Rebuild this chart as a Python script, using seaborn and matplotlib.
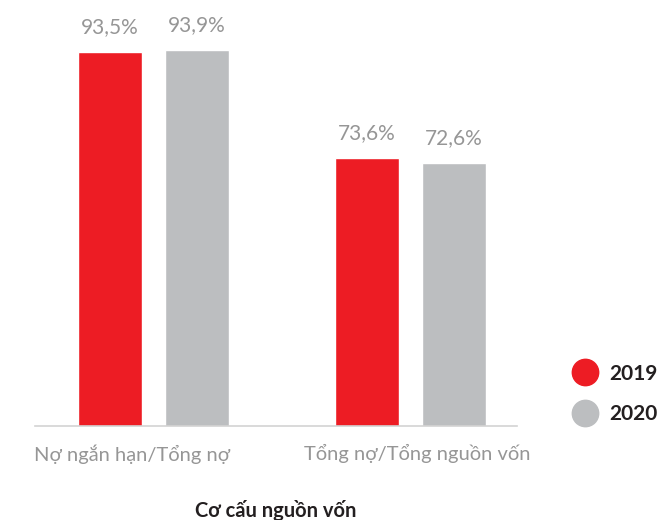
import matplotlib
matplotlib.use("Agg")
import matplotlib.pyplot as plt
import matplotlib.transforms as mtransforms
import pandas as pd
import seaborn as sns

# dữ liệu
categories = ["Nợ ngắn hạn/Tổng nợ", "Tổng nợ/Tổng nguồn vốn"]
years = ["2019", "2020"]
values_2019 = [93.5, 73.6]
values_2020 = [93.9, 72.6]
colors = ["#ED1C24", "#BCBEC0"]

df = pd.DataFrame({
    "category": categories * 2,
    "year": [years[0]] * 2 + [years[1]] * 2,
    "value": values_2019 + values_2020,
})

sns.set_style("white")
plt.rcParams["font.family"] = ["Lato", "DejaVu Sans"]

fig = plt.figure(figsize=(6.59, 5.2), dpi=100)
ax = fig.add_axes([35 / 659, 94 / 520, 482 / 659, 416 / 520])

sns.barplot(data=df, x="category", y="value", hue="year", palette=colors,
            width=0.677, gap=0.264, saturation=1, ax=ax, legend=False)

ax.set_xlim(-0.461, 1.414)
ax.set_ylim(23.3, 101.4)

# nhãn giá trị
for cont in ax.containers:
    labels = [f"{b.get_height():.1f}%".replace(".", ",") for b in cont]
    ax.bar_label(cont, labels=labels, padding=11, fontsize=15, color="#969696")

sns.despine(ax=ax, left=True)
ax.spines["bottom"].set_color("#D3D3D3")
ax.spines["bottom"].set_linewidth(1.2)
ax.set_yticks([])
ax.set_ylabel("")
ax.tick_params(axis="x", length=0, pad=13, labelsize=14.5, labelcolor="#969696")
# lệch nhẹ nhãn trục như bản gốc
offsets = [-21, 7]
for lab, dx in zip(ax.get_xticklabels(), offsets):
    lab.set_transform(lab.get_transform() +
                      mtransforms.ScaledTranslation(dx / 100, 0, fig.dpi_scale_trans))

ax.set_xlabel("Cơ cấu nguồn vốn", fontsize=14.5, fontweight="bold",
              color="#231F20", labelpad=26)

# chú thích
handles = [plt.Line2D([], [], marker="o", linestyle="", markersize=19,
                      markerfacecolor=c, markeredgecolor=c) for c in colors]
leg = fig.legend(handles, years, loc="center left", bbox_to_anchor=(572 / 659, 126 / 520),
                 frameon=False, handlelength=1.2, handletextpad=0.6, labelspacing=1.0,
                 borderpad=0, borderaxespad=0, prop={"size": 15, "weight": "bold"})
for t in leg.get_texts():
    t.set_color("#231F20")

fig.savefig("out.png", dpi=100)
